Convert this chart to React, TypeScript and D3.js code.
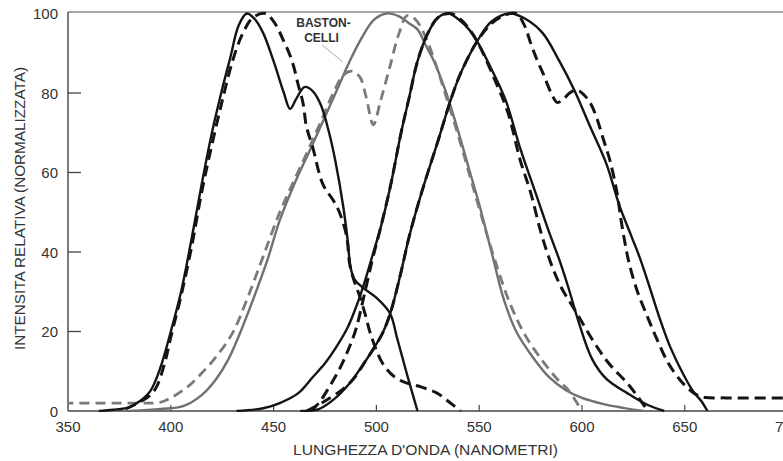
import React from "react";
import * as d3 from "d3";

// ---- data (wavelength nm, relative intensity) ----
const X_TICKS = [350, 400, 450, 500, 550, 600, 650, 700];
const Y_TICKS = [0, 20, 40, 60, 80, 100];

const sSolid: [number, number][] = [
  [365, 0], [372, 0.3], [380, 1], [385, 2.5], [390, 5], [395, 11], [400, 20], [405, 30], [410, 43],
  [415, 57], [420, 70], [425, 81], [429, 89], [433, 97], [437, 100], [441, 98.5], [445, 95], [450, 88],
  [455, 80], [458, 76], [461, 78.5], [465, 81.5], [469, 80.5], [473, 77], [477, 70], [480, 63], [484, 51],
  [486, 43], [487.5, 36], [489.5, 33], [493.5, 31], [500, 28.5], [506.6, 24.6], [510, 18.5], [515, 9], [520, 0],
];

const sDashed: [number, number][] = [
  [378, 0.5], [385, 2.3], [390, 4], [393, 6], [397, 12], [400, 18.6], [405, 29], [410, 41], [415, 55],
  [420, 67], [425, 78], [430, 88], [435, 95], [440, 99], [446, 100], [450, 98], [455, 93], [459, 88],
  [462, 82], [464.3, 77.5], [466, 71.5], [469, 66.4], [474, 57], [479, 53], [482, 50], [485.5, 44],
  [487, 37], [489, 33], [492, 28.7], [495, 23.5], [497, 19.6], [503, 12], [509, 8.5], [515, 7], [522, 6],
  [529.5, 4.5], [536, 2], [541, 0],
];

const rodSolid: [number, number][] = [
  [380, 0], [395, 0.5], [406, 1.2], [415, 4], [422, 8], [428, 13], [434, 20], [440, 28], [447, 38],
  [453, 48], [460, 57], [468, 66], [475, 74], [481, 81], [487, 88], [493, 94], [499, 98.5], [505, 100],
  [511, 99.3], [516, 97.5], [520, 96], [524, 92], [528, 88], [534, 80], [540, 70], [545, 61], [550, 52],
  [556, 40], [562, 28], [568, 20], [576, 13.6], [584, 8.5], [592, 5.3], [600, 3.3], [610, 1.8], [620, 0.8],
  [630, 0],
];

const rodDashed: [number, number][] = [
  [340, 2], [380, 2], [395, 2.2], [400, 3.3], [408, 6], [415, 9.5], [422, 13.6], [430, 19.6], [437, 28],
  [445, 39], [453, 50], [460, 58], [468, 67], [474, 74], [479, 80], [484, 84.5], [488, 85.5], [492, 84],
  [495, 79], [498.5, 72], [502, 78], [506.5, 86.5], [511, 95], [515, 99.5], [519, 98.5], [524, 94],
  [529, 87], [534, 79], [540, 69], [545, 60], [550, 51], [557, 39], [565, 27], [573, 18.5], [581, 12.5],
  [588, 8], [593, 5.5], [597, 2.5], [600, 0],
];

const mSolid: [number, number][] = [
  [432, 0], [445, 0.7], [453, 2], [462, 4.5], [469, 8.5], [475, 12], [481, 16.5], [486, 21], [490, 26],
  [494, 32], [498, 39], [502, 46], [507, 57], [512, 70], [516, 79], [520, 88], [525, 95], [530, 99],
  [535, 100], [540, 98.5], [545, 96], [549, 93], [556, 86], [563, 78], [570, 66], [578, 54], [584, 45],
  [589, 38], [594, 30], [598, 23], [605, 13], [612, 8], [622, 4.5], [632, 1.5], [640, 0],
];

const mDashed: [number, number][] = [
  [468, 0], [472, 2], [477, 6], [482, 10.5], [486, 15], [490, 20.5], [494, 29], [498, 38], [502, 46],
  [507, 57], [512, 70], [516, 79], [520, 88], [525, 95], [530, 99], [536, 100], [541, 98.5], [546, 95.5],
  [550, 92], [557, 84], [564, 75], [570, 63], [575, 55], [580, 45], [585, 37], [590, 31], [597, 25],
  [605, 18], [613, 12], [622, 7], [628, 3], [632, 0],
];

const lSolid: [number, number][] = [
  [463, 0], [472, 0.5], [479, 2.8], [487, 7], [495, 12.8], [503, 19.6], [507, 25], [512, 35], [516, 44],
  [522, 55], [530, 68], [536, 78], [541, 85], [549, 93], [556, 98], [565, 100], [573, 98.5], [581, 95],
  [589, 88], [596, 81], [604, 71.5], [612, 62], [618, 52], [624, 44], [628, 38.7], [633, 31], [638, 23],
  [643, 16], [649, 9.5], [654, 5], [658, 2.5], [661, 0],
];

const lDashed: [number, number][] = [
  [466, 0], [475, 2.5], [487, 7], [495, 12.8], [503, 19.6], [507, 25], [512, 35], [516, 44], [522, 55],
  [530, 68], [536, 78], [541, 85], [549, 93], [556, 97.5], [562, 99.5], [568, 100], [572, 97],
  [575, 92.6], [578, 88.5], [581, 85], [585, 80], [588, 77.6], [591, 78.5], [594, 80], [597.5, 80.8],
  [601, 79.5], [604, 77.5], [607, 74], [610, 69], [613.6, 63], [617, 55], [619, 48], [621, 42], [623, 37],
  [627, 30], [632, 23.5], [636.5, 18], [642, 12], [647.7, 7.8], [652, 5.5], [656, 4], [660, 3.4],
  [670, 3.3], [720, 3.3],
];

const W = 783;
const H = 461;
const X0 = 68;
const Y0 = 411;

export default function App() {
  const x = d3.scaleLinear().domain([350, 700]).range([X0, 787.6]);
  const y = d3.scaleLinear().domain([0, 100]).range([Y0, 13.5]);
  const line = d3
    .line<[number, number]>()
    .x((d) => x(d[0]))
    .y((d) => y(d[1]))
    .curve(d3.curveCatmullRom.alpha(0.5));

  const font = "'Liberation Sans', Arial, sans-serif";
  const black = "#141414";
  const gray = "#707070";

  const series = [
    { d: rodSolid, stroke: gray, w: 2.4, dash: undefined },
    { d: rodDashed, stroke: "#7a7a7a", w: 2.8, dash: "10 6" },
    { d: sSolid, stroke: black, w: 2.4, dash: undefined },
    { d: sDashed, stroke: black, w: 3, dash: "11 6" },
    { d: mSolid, stroke: black, w: 2.4, dash: undefined },
    { d: mDashed, stroke: black, w: 3, dash: "11 6" },
    { d: lSolid, stroke: black, w: 2.4, dash: undefined },
    { d: lDashed, stroke: black, w: 3, dash: "11 6" },
  ];

  return (
    <svg
      width={W}
      height={H}
      viewBox={`0 0 ${W} ${H}`}
      style={{ position: "fixed", left: 0, top: 0, background: "#fff" }}
    >
      <rect x={0} y={0} width={W} height={H} fill="#fff" />
      <defs>
        <clipPath id="plot">
          <rect x={X0} y={0} width={W - X0} height={Y0 + 1} />
        </clipPath>
      </defs>

      {/* frame */}
      <line x1={X0} x2={W} y1={12} y2={12} stroke="#8a8a8a" strokeWidth={1.3} />
      <line x1={X0} x2={X0} y1={12} y2={Y0} stroke="#444" strokeWidth={1.4} />
      <line x1={X0} x2={W} y1={Y0} y2={Y0} stroke="#444" strokeWidth={1.4} />

      {/* y ticks */}
      {Y_TICKS.map((t) => (
        <g key={"y" + t}>
          {t > 0 && t < 100 && (
            <line x1={X0} x2={X0 + 13} y1={y(t)} y2={y(t)} stroke="#444" strokeWidth={1.3} />
          )}
          <text
            x={58}
            y={y(t)}
            textAnchor="end"
            dominantBaseline="central"
            fontFamily={font}
            fontSize={15}
            fill="#333"
          >
            {t}
          </text>
        </g>
      ))}

      {/* x ticks */}
      {X_TICKS.map((t) => (
        <g key={"x" + t}>
          {t > 350 && (
            <line x1={x(t)} x2={x(t)} y1={Y0} y2={Y0 - 6} stroke="#444" strokeWidth={1.2} />
          )}
          <text
            x={x(t)}
            y={426}
            textAnchor="middle"
            dominantBaseline="central"
            fontFamily={font}
            fontSize={15}
            fill="#333"
          >
            {t}
          </text>
        </g>
      ))}

      {/* curves */}
      <g clipPath="url(#plot)" fill="none" strokeLinejoin="round">
        {series.map((s, i) => (
          <path
            key={i}
            d={line(s.d) || ""}
            stroke={s.stroke}
            strokeWidth={s.w}
            strokeDasharray={s.dash}
          />
        ))}
      </g>

      {/* rod label */}
      <text x={323.5} y={23} textAnchor="middle" dominantBaseline="central" fontFamily={font} fontSize={12} fontWeight={700} fill="#333">
        BASTON-
      </text>
      <text x={321.5} y={37.5} textAnchor="middle" dominantBaseline="central" fontFamily={font} fontSize={12} fontWeight={700} fill="#333">
        CELLI
      </text>
      <line x1={322} y1={45} x2={343} y2={62} stroke="#aaa" strokeWidth={1} />

      {/* axis titles */}
      <text
        x={425.5}
        y={450}
        textAnchor="middle"
        dominantBaseline="central"
        fontFamily={font}
        fontSize={14}
        fill="#333"
        textLength={265}
        lengthAdjust="spacingAndGlyphs"
      >
        LUNGHEZZA D'ONDA (NANOMETRI)
      </text>
      <text
        transform="translate(20,208.5) rotate(-90)"
        textAnchor="middle"
        dominantBaseline="central"
        fontFamily={font}
        fontSize={14}
        fill="#333"
        textLength={283}
        lengthAdjust="spacingAndGlyphs"
      >
        INTENSITA RELATIVA (NORMALIZZATA)
      </text>
    </svg>
  );
}
